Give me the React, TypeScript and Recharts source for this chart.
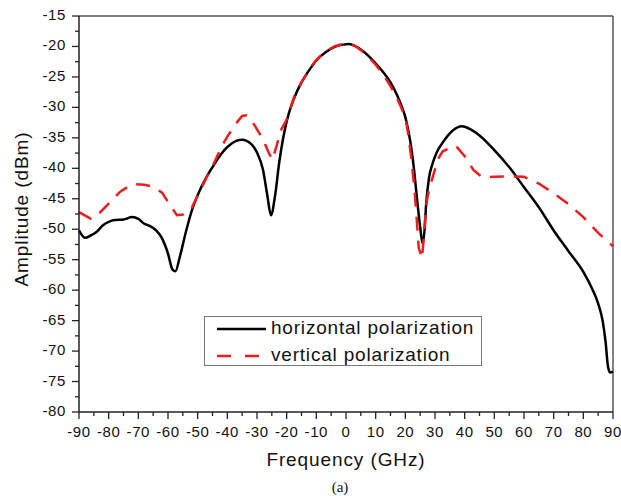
import React from 'react';
import { LineChart, Line, XAxis, YAxis, ReferenceLine } from 'recharts';

// horizontal polarization (black solid)
const hFreq = [
  -90, -88, -86, -84, -82, -80, -78, -75, -72, -70, -68, -66, -64, -62, -60, -58.5, -57.5, -56, -54, -52, -50,
  -47, -45, -42, -40, -37, -35, -32, -30, -28, -26.5, -25.3, -24, -22.5, -20, -17.5, -15, -12, -10, -7, -4, -1,
  1, 3, 5, 7.5, 10, 12.5, 15, 17.5, 18.75, 20, 21, 22, 23, 24, 25, 25.8, 26.5, 27, 28, 29, 30.5, 33, 36, 39, 42, 45, 50,
  55, 60, 65, 70, 75, 80, 83, 85, 86.5, 87.5, 88.3, 89, 90,
];
const hAmp = [
  -50.2, -51.4, -51.0, -50.4, -49.4, -48.8, -48.5, -48.4, -48.0, -48.3, -49.1, -49.5, -50.2, -51.5, -54.0, -56.6, -56.9, -54.5, -50.5, -47.0, -44.4,
  -41.4, -39.8, -37.6, -36.5, -35.5, -35.3, -36.0, -37.4, -40.2, -44.5, -47.7, -44.8, -39.0, -32.3, -28.5, -25.9, -23.6, -22.3, -21.0, -20.1, -19.7,
  -19.6, -19.9, -20.5, -21.5, -22.8, -24.2, -25.9, -28.3, -29.8, -31.6, -33.8, -36.6, -40.5, -45.3, -49.6, -52.3, -50.0, -46.0, -41.5, -39.5, -37.5, -35.5, -33.8, -33.1, -33.6, -34.6, -37.0,
  -39.8, -43.1, -46.4, -50.2, -53.6, -57.0, -59.8, -62.2, -65.0, -68.5, -72.5, -73.5, -73.4,
];

// vertical polarization (red dashed)
const vFreq = [
  -90, -86, -84, -80, -76, -72, -68, -65, -62, -60, -57, -55, -52, -50, -47, -45, -42, -40, -37, -35, -33.5,
  -31, -28, -26, -24.8, -23.5, -22, -20, -17.5, -15, -12, -10, -7, -4, -1, 1, 3, 5, 7.5, 10, 12.5, 15, 17.5,
  20, 21, 22, 23, 23.8, 24.5, 25.6, 26.3, 27, 28, 29.5, 31, 32.6, 35, 37, 40, 43, 46, 50, 55, 60, 65, 70, 75, 80, 85, 90,
];
const vAmp = [
  -47.2, -48.3, -47.8, -45.8, -43.8, -42.6, -42.7, -43.0, -44.0, -45.5, -47.7, -47.6, -46.5, -44.5, -41.5, -39.7, -36.5, -34.8, -32.6, -31.4, -31.3,
  -32.8, -35.2, -37.5, -38.6, -36.5, -33.8, -32.0, -28.3, -25.9, -23.5, -22.2, -20.9, -20.0, -19.6, -19.6, -19.9, -20.6, -21.7, -23.0, -24.6, -26.5, -28.8,
  -31.6, -34.5, -38.3, -43.0, -48.0, -53.0, -54.8, -51.0, -46.0, -43.5, -41.0, -38.5, -37.2, -36.7, -36.3, -38.0, -40.3, -41.5, -41.4, -41.3, -41.4, -42.5, -44.1, -45.9, -48.0, -50.6, -52.8,
];

const xTicks = [
  -90, -85, -80, -75, -70, -65, -60, -55, -50, -45, -40, -35, -30, -25, -20, -15, -10, -5, 0,
  5, 10, 15, 20, 25, 30, 35, 40, 45, 50, 55, 60, 65, 70, 75, 80, 85, 90,
];
const yTicks = [
  -80, -77.5, -75, -72.5, -70, -67.5, -65, -62.5, -60, -57.5, -55, -52.5, -50, -47.5, -45, -42.5, -40,
  -37.5, -35, -32.5, -30, -27.5, -25, -22.5, -20, -17.5, -15,
];

const hData = hFreq.map((f, i) => ({ f, amp: hAmp[i] }));
const vData = vFreq.map((f, i) => ({ f, amp: vAmp[i] }));

const FONT = '"Liberation Sans", Arial, sans-serif';
const AXIS = '#222';
const INK = '#111';

const XTick = (props: any) => {
  const { x, y, payload } = props;
  const v = payload.value;
  const major = Math.abs(v % 10) < 1e-6;
  return (
    <g>
      <line x1={x} x2={x} y1={y} y2={y + (major ? 7 : 4)} stroke={AXIS} strokeWidth={1.3} />
      {major && (
        <text x={x} y={y + 21} textAnchor="middle" dominantBaseline="middle" fontFamily={FONT} fontSize={15} letterSpacing={0.6} fill={INK}>
          {String(v)}
        </text>
      )}
    </g>
  );
};

const YTick = (props: any) => {
  const { x, y, payload } = props;
  const v = payload.value;
  const major = Math.abs(v % 5) < 1e-6;
  return (
    <g>
      <line x1={x} x2={x - (major ? 7 : 4)} y1={y} y2={y} stroke={AXIS} strokeWidth={1.3} />
      {major && (
        <text x={x - 13} y={y} textAnchor="end" dominantBaseline="middle" fontFamily={FONT} fontSize={15} letterSpacing={0.6} fill={INK}>
          {String(v)}
        </text>
      )}
    </g>
  );
};

export default function App() {
  return (
    <div style={{ position: 'absolute', left: 0, top: 0, width: 621, height: 496, background: '#fff' }}>
      <LineChart width={621} height={496} margin={{ top: 16, right: 8, bottom: 54, left: 19 }}>
        <XAxis
          dataKey="f"
          type="number"
          domain={[-90, 90]}
          ticks={xTicks}
          interval={0}
          tickLine={false}
          tickSize={0}
          tickMargin={0}
          height={30}
          axisLine={{ stroke: AXIS, strokeWidth: 1.5 }}
          tick={<XTick />}
          allowDuplicatedCategory={false}
        />
        <YAxis
          type="number"
          domain={[-80, -15]}
          ticks={yTicks}
          interval={0}
          tickLine={false}
          tickSize={0}
          tickMargin={0}
          width={60}
          axisLine={{ stroke: AXIS, strokeWidth: 1.5 }}
          tick={<YTick />}
        />
        <ReferenceLine y={-15} stroke="#555" strokeWidth={1.5} />
        <ReferenceLine x={90} stroke="#555" strokeWidth={1.5} />
        <Line data={hData} dataKey="amp" type="monotone" stroke="#000" strokeWidth={2.5} dot={false} isAnimationActive={false} />
        <Line data={vData} dataKey="amp" type="linear" stroke="#ee1c1c" strokeWidth={2.5} strokeDasharray="14 10" dot={false} isAnimationActive={false} />
      </LineChart>

      <svg width={621} height={496} style={{ position: 'absolute', left: 0, top: 0, pointerEvents: 'none' }}>
        <text x={346} y={461} textAnchor="middle" dominantBaseline="middle" fontFamily={FONT} fontSize={19} letterSpacing={0.9} fill={INK}>
          Frequency (GHz)
        </text>
        <text
          x={23}
          y={209}
          textAnchor="middle"
          dominantBaseline="middle"
          fontFamily={FONT}
          fontSize={19}
          letterSpacing={0.9}
          fill={INK}
          transform="rotate(-90 23 209)"
        >
          Amplitude (dBm)
        </text>
        <text x={340} y={489} textAnchor="middle" dominantBaseline="middle" fontFamily='"Liberation Serif", serif' fontSize={15} fill={INK}>
          (a)
        </text>
      </svg>

      <div
        style={{
          position: 'absolute',
          left: 204,
          top: 316,
          width: 278,
          height: 50,
          border: '1px solid #777',
          boxSizing: 'border-box',
          background: '#fff',
        }}
      >
        <svg width={278} height={50} style={{ position: 'absolute', left: -1, top: -1 }}>
          <line x1={13} x2={62} y1={13} y2={13} stroke="#000" strokeWidth={2.5} />
          <line x1={13} x2={62} y1={40} y2={40} stroke="#ee1c1c" strokeWidth={2.5} strokeDasharray="14 14" />
          <text x={67} y={13} dominantBaseline="middle" fontFamily={FONT} fontSize={19} letterSpacing={0.8} fill={INK}>
            horizontal polarization
          </text>
          <text x={67} y={40} dominantBaseline="middle" fontFamily={FONT} fontSize={19} letterSpacing={0.8} fill={INK}>
            vertical polarization
          </text>
        </svg>
      </div>
    </div>
  );
}
